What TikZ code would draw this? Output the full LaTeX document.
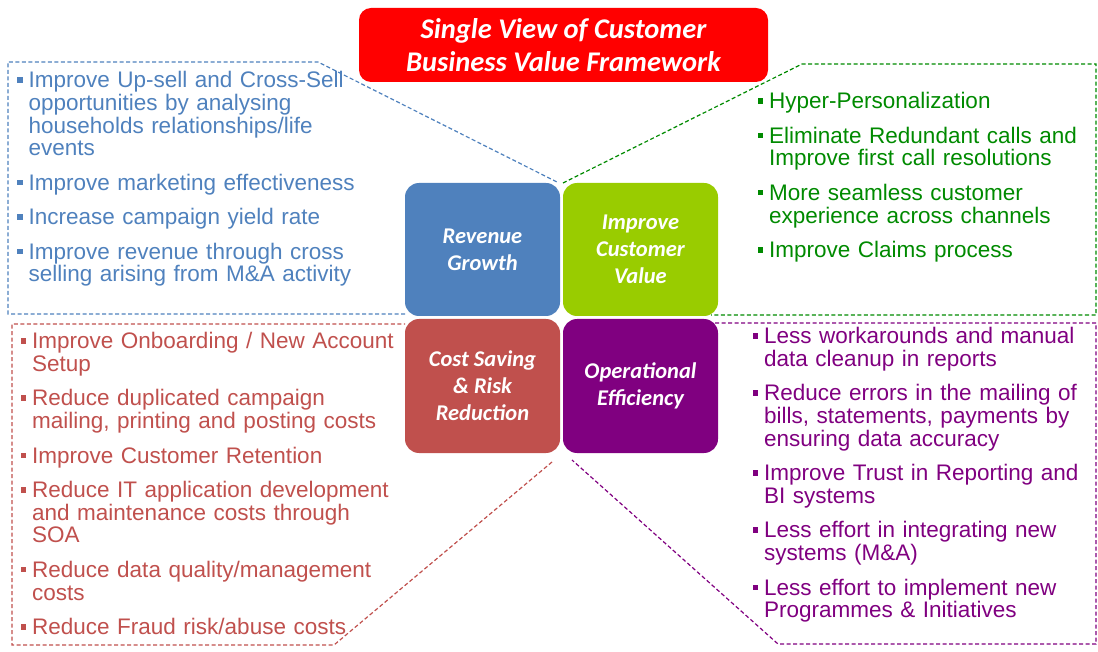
\documentclass[tikz,border=0pt]{standalone}
\usepackage{fontspec}
\setmainfont{Liberation Sans}
\newfontfamily\calibri{Carlito}
\usepackage{tikz}

\definecolor{titlered}{HTML}{FF0000}
\definecolor{revblue}{HTML}{4F81BD}
\definecolor{valgreen}{HTML}{99CC00}
\definecolor{valtext}{HTML}{008A00}
\definecolor{costred}{HTML}{C0504D}
\definecolor{opspurple}{HTML}{800080}

\newlength\bulletsep
\setlength\bulletsep{11.5pt}
\newcommand\sqitem{\par\parskip=11.8pt\relax\noindent\hangindent=\bulletsep\hangafter=1%
  \makebox[\bulletsep][l]{\rule[5pt]{5.5pt}{5.5pt}}\rule{0pt}{17pt}}

\begin{document}
\begin{tikzpicture}[x=1pt,y=-1pt]
\tikzstyle{callout}=[line width=1.2pt, dash pattern=on 4pt off 2.5pt, line join=miter]
\tikzstyle{quad}=[rounded corners=14pt, minimum width=155pt, inner sep=0pt, text=white, align=center, font=\calibri\bfseries\itshape\fontsize{22.5}{27}\selectfont]
\tikzstyle{pointlist}=[anchor=north west, inner sep=0pt, text width=390pt, font=\fontsize{22.5}{22.7}\selectfont]
\useasboundingbox (0,0) rectangle (1098,652);
\draw [callout, revblue] (405,314) -- (8,314) -- (8,62) -- (318,62) -- (557,182);
\draw [callout, valtext] (563,183) -- (802,64) -- (1096,64) -- (1096,315) -- (711,315);
\draw [callout, costred] (552,462) -- (334,645) -- (12,645) -- (12,324) -- (405,324);
\draw [callout, opspurple] (715,323) -- (1096,323) -- (1096,644) -- (778,644) -- (572,460);
\node [fill=titlered, rounded corners=12pt, minimum width=409pt, minimum height=74pt, inner sep=0pt, text=white, align=center, font=\calibri\bfseries\itshape\fontsize{28.5}{33}\selectfont] (title) at (563.5,45) {Single View of Customer\\Business Value Framework};
\node [quad, fill=revblue, minimum height=133pt] (rev) at (482.5,249.5) {Revenue\\Growth};
\node [quad, fill=valgreen, minimum height=133pt] (val) at (640.5,249.5) {Improve\\Customer\\Value};
\node [quad, fill=costred, minimum height=134pt] (cost) at (482.5,386) {Cost Saving\\\& Risk\\Reduction};
\node [quad, fill=opspurple, minimum height=134pt] (ops) at (640.5,386) {Operational\\Efficiency};
\node [pointlist, text=revblue] (revlist) at (17,53) {%
\sqitem Improve Up-sell and Cross-Sell\newline opportunities by analysing\newline households relationships/life\newline events
\sqitem Improve marketing effectiveness
\sqitem Increase campaign yield rate
\sqitem Improve revenue through cross\newline selling arising from M\&A activity\par};
\node [pointlist, text=valtext] (vallist) at (757.5,74) {%
\sqitem Hyper-Personalization
\sqitem Eliminate Redundant calls and\newline Improve first call resolutions
\sqitem More seamless customer\newline experience across channels
\sqitem Improve Claims process\par};
\node [pointlist, text=costred] (costlist) at (20.5,314) {%
\sqitem Improve Onboarding / New Account\newline Setup
\sqitem Reduce duplicated campaign\newline mailing, printing and posting costs
\sqitem Improve Customer Retention
\sqitem Reduce IT application development\newline and maintenance costs through\newline SOA
\sqitem Reduce data quality/management\newline costs
\sqitem Reduce Fraud risk/abuse costs\par};
\node [pointlist, text=opspurple] (opslist) at (752.5,309) {%
\sqitem Less workarounds and manual\newline data cleanup in reports
\sqitem Reduce errors in the mailing of\newline bills, statements, payments by\newline ensuring data accuracy
\sqitem Improve Trust in Reporting and\newline BI systems
\sqitem Less effort in integrating new\newline systems (M\&A)
\sqitem Less effort to implement new\newline Programmes \& Initiatives\par};
\end{tikzpicture}
\end{document}
